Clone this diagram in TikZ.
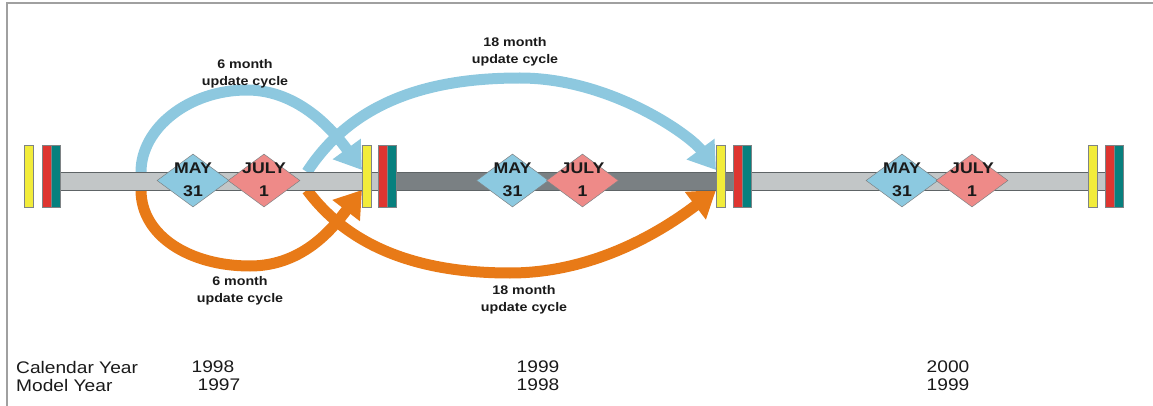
\documentclass[tikz,border=0pt]{standalone}
\usepackage{fontspec}
\setmainfont{Liberation Sans}
\newfontfamily\wfont{Liberation Sans}[FakeStretch=1.14]
\usetikzlibrary{shapes.geometric,arrows.meta}

\definecolor{barlight}{HTML}{C2C6C7}
\definecolor{bardark}{HTML}{7A8083}
\definecolor{baredge}{HTML}{5E6466}
\definecolor{mayblue}{HTML}{8CC9E0}
\definecolor{julypink}{HTML}{EE8A88}
\definecolor{cycblue}{HTML}{8DC8DF}
\definecolor{cycorange}{HTML}{E87A17}
\definecolor{tickyellow}{HTML}{F2EC3A}
\definecolor{tickred}{HTML}{DE3530}
\definecolor{tickteal}{HTML}{07807E}
\definecolor{framegray}{HTML}{A0A0A0}
\definecolor{txt}{HTML}{1A1A1A}

\begin{document}
\begin{tikzpicture}[x=1pt,y=-1pt,
  seg/.style={draw=baredge, line width=0.8pt},
  tick/.style={draw=baredge!80, line width=0.6pt, minimum width=9pt,
    minimum height=62pt, inner sep=0pt, anchor=north west},
  dia/.style={diamond, draw=baredge!80, line width=0.5pt,
    minimum width=72pt, minimum height=53pt, inner sep=0pt},
  datetxt/.style={font=\wfont\bfseries\fontsize{15.5}{23}\selectfont,
    text=txt, align=center, inner sep=0pt},
  cyc/.style={line width=11pt, -{Triangle[length=26pt,width=33pt]}},
  cyctxt/.style={font=\wfont\bfseries\fontsize{12.5}{17}\selectfont,
    text=txt, align=center, inner sep=0pt},
  yeartxt/.style={font=\wfont\fontsize{16.8}{18}\selectfont, text=txt, inner sep=0pt}
]
\useasboundingbox (0,0) rectangle (1153,406);

% frame edges
\draw[framegray, line width=2pt] (7,406) -- (7,3) -- (1153,3);

% start and end points of the update-cycle arrows
\coordinate (bA) at (141,172);
\coordinate (bB) at (307,172);
\coordinate (oA) at (141,190);
\coordinate (oB) at (307,190);
\coordinate (tb2) at (362,170);
\coordinate (to2) at (362,190);
\coordinate (tb3) at (716,170);
\coordinate (to3) at (716,190);

% update-cycle arrows
\draw[cyc, cycblue] (bA) .. controls (141,128) and (189,90) .. (247,90)
  .. controls (300,90) and (335,133) .. (tb2);
\draw[cyc, cycblue] (bB) .. controls (355,98) and (435,78) .. (520,78)
  .. controls (610,78) and (690,135) .. (tb3);
\draw[cyc, cycorange] (oA) .. controls (141,236) and (190,266) .. (250,266)
  .. controls (305,266) and (335,225) .. (to2);
\draw[cyc, cycorange] (oB) .. controls (350,248) and (420,273) .. (510,273)
  .. controls (600,273) and (670,225) .. (to3);

% timeline bar
\node[seg, fill=barlight, minimum width=319pt, minimum height=18pt, inner sep=0pt, anchor=north west] (segA) at (59,172) {};
\node[seg, fill=bardark, minimum width=346pt, minimum height=18pt, inner sep=0pt, anchor=north west] (segB) at (387,172) {};
\node[seg, fill=barlight, minimum width=362pt, minimum height=18pt, inner sep=0pt, anchor=north west] (segC) at (743,172) {};

% date markers
\node[dia, fill=mayblue] (may1) at (193,180.5) {};
\node[dia, fill=julypink] (jul1) at (264,180.5) {};
\node[dia, fill=mayblue] (may2) at (512.5,180.5) {};
\node[dia, fill=julypink] (jul2) at (582.5,180.5) {};
\node[dia, fill=mayblue] (may3) at (902,180.5) {};
\node[dia, fill=julypink] (jul3) at (972,180.5) {};

\node[datetxt] (may1t) at (193,179.5) {MAY\\31};
\node[datetxt] (jul1t) at (264,179.5) {JULY\\1};
\node[datetxt] (may2t) at (512.5,179.5) {MAY\\31};
\node[datetxt] (jul2t) at (582.5,179.5) {JULY\\1};
\node[datetxt] (may3t) at (902,179.5) {MAY\\31};
\node[datetxt] (jul3t) at (972,179.5) {JULY\\1};

% year boundary ticks
\node[tick, fill=tickyellow] (y1) at (24,145) {};
\node[tick, fill=tickred] (r1) at (42,145) {};
\node[tick, fill=tickteal] (g1) at (51,145) {};
\node[tick, fill=tickyellow] (y2) at (362,145) {};
\node[tick, fill=tickred] (r2) at (378,145) {};
\node[tick, fill=tickteal] (g2) at (387,145) {};
\node[tick, fill=tickyellow] (y3) at (716,145) {};
\node[tick, fill=tickred] (r3) at (733,145) {};
\node[tick, fill=tickteal] (g3) at (742,145) {};
\node[tick, fill=tickyellow] (y4) at (1088,145) {};
\node[tick, fill=tickred] (r4) at (1105,145) {};
\node[tick, fill=tickteal] (g4) at (1114,145) {};

% cycle labels
\node[cyctxt] (lb6) at (245,73.5) {6 month\\update cycle};
\node[cyctxt] (lb18) at (515,51.5) {18 month\\update cycle};
\node[cyctxt] (lo6) at (240,290.5) {6 month\\update cycle};
\node[cyctxt] (lo18) at (524,299.5) {18 month\\update cycle};

% year rows
\node[yeartxt, anchor=west] (cal) at (16,367) {Calendar Year};
\node[yeartxt, anchor=west] (mod) at (16,385) {Model Year};
\node[yeartxt] (c98) at (213,367) {1998};
\node[yeartxt] (m97) at (219,385) {1997};
\node[yeartxt] (c99) at (538,367) {1999};
\node[yeartxt] (m98) at (538,385) {1998};
\node[yeartxt] (c00) at (948,367) {2000};
\node[yeartxt] (m99) at (948,385) {1999};
\end{tikzpicture}
\end{document}
